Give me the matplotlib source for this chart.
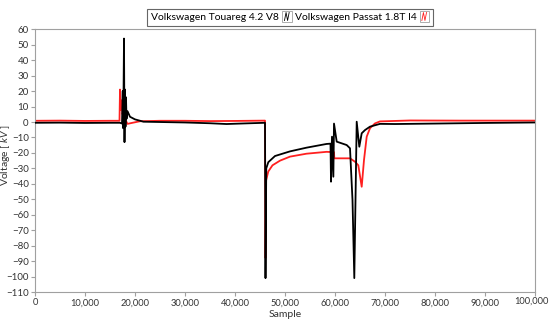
import numpy as np
import matplotlib
matplotlib.use('Agg')
import matplotlib.pyplot as plt
from matplotlib.lines import Line2D
from matplotlib.patches import Rectangle
from matplotlib.legend_handler import HandlerBase
from matplotlib.ticker import FuncFormatter, MultipleLocator

# Touareg 4.2 V8 (black)
touareg_x = [0, 5000, 10000, 15000, 17000, 17400, 17550, 17650, 17800, 17900,
             18000, 18100, 18200, 18300, 18500, 19000, 20000, 21700, 25000,
             30000, 35000, 38300, 42000, 46000, 46100, 46250, 46660, 48000,
             51000, 54300, 58300, 59100, 59200, 59400, 59670, 59800, 60340,
             62340, 63000, 63500, 63860, 64340, 64860, 65340, 66000, 67000,
             69000, 72000, 80000, 90000, 100000]
touareg_y = [-0.5, -0.4, -0.6, -0.5, -0.5, -1.0, 20, -4, 54, -13,
             21, -3, 16, 2, 7, 3.4, 1.7, 0.2, 0.0,
             -0.3, -0.8, -1.3, -0.9, -0.5, -101, -30, -26, -22,
             -19, -16.6, -14.2, -14, -38.6, -9.5, -35.4, -1, -12.7,
             -14.9, -17, -50.5, -101, 0.2, -16, -7.3, -5.2, -3,
             -1.2, -1.3, -1.0, -0.6, -0.3]

# Passat 1.8T I4 (red)
passat_x = [0, 5000, 10000, 15000, 16900, 17000, 17150, 17300, 17500, 17700,
            18000, 18500, 19500, 21000, 25000, 30000, 35000, 40000, 46000,
            46100, 46200, 46660, 47500, 49000, 51000, 54300, 58300, 59800,
            59860, 63000, 64000, 64660, 65340, 65800, 66340, 67000, 68000,
            69000, 75000, 85000, 100000]
passat_y = [0.8, 0.9, 0.7, 0.8, 0.8, 21, 8, 14, 5, 7,
            2, -1.2, -0.5, 0.5, 0.8, 0.8, 0.6, 0.7, 0.9,
            -88, -38, -32, -28, -25, -22.4, -20.5, -19.3, -19.5,
            -23.5, -23.5, -25.7, -28, -41.9, -24.6, -9.5, -4, -0.9,
            0.4, 1.0, 0.9, 0.9]

labels = ['Volkswagen Touareg 4.2 V8', 'Volkswagen Passat 1.8T I4']
colors = ['black', '#ff2020']
x_max = 100000

grey = '#a0a0a0'
plt.rcParams['font.family'] = ['Lato', 'DejaVu Sans']
plt.rcParams['font.size'] = 7
plt.rcParams['mathtext.fontset'] = 'custom'
plt.rcParams['mathtext.rm'] = 'Lato'
plt.rcParams['mathtext.it'] = 'Lato:italic'


class ZigHandler(HandlerBase):
    def create_artists(self, legend, orig_handle, xdescent, ydescent,
                       width, height, fontsize, trans):
        x0, y0 = -xdescent, -ydescent
        box = Rectangle((x0, y0 - 0.2 * height), width, height * 1.4,
                        fill=False, ec=grey, lw=0.6, transform=trans)
        zx = x0 + width * np.array([0.25, 0.42, 0.58, 0.75])
        zy = y0 + height * np.array([-0.05, 1.05, -0.05, 1.05])
        zig = Line2D(zx, zy, color=orig_handle.get_color(), lw=0.6,
                     transform=trans)
        return [box, zig]


def fmt(v, p):
    # the last label is drawn by hand, nudged in from the edge
    return '' if v >= x_max else '{:,.0f}'.format(v)


fig = plt.figure(figsize=(5.5, 3.22), dpi=100)
ax = fig.add_axes([35 / 550, 1 - 292 / 322, 500 / 550, (292 - 29.3) / 322])

ax.plot(touareg_x, touareg_y, color=colors[0], lw=1.3, zorder=3)
ax.plot(passat_x, passat_y, color=colors[1], lw=1.3, zorder=2)

ax.set_xlim(0, x_max)
ax.set_ylim(-110, 60)
ax.xaxis.set_major_locator(MultipleLocator(10000))
ax.yaxis.set_major_locator(MultipleLocator(10))
ax.xaxis.set_major_formatter(FuncFormatter(fmt))
for s in ax.spines.values():
    s.set_color(grey)
    s.set_linewidth(0.8)
ax.tick_params(colors=grey, labelcolor='#333333', length=3, width=0.8,
               labelsize=7, pad=1.5)
ax.tick_params(axis='x', labelsize=6.7)
ax.annotate('{:,.0f}'.format(x_max), xy=(1, 0), xycoords='axes fraction',
            xytext=(-2.5, -3.6), textcoords='offset points', ha='center',
            va='top', fontsize=6.7, color='#333333')
ax.set_xlabel('Sample', color='#333333', fontsize=7.5, labelpad=2)
ax.set_ylabel('Voltage [ $kV$ ]', color='#333333', fontsize=7.5)
ax.yaxis.set_label_coords(-23 / 500, 0.52)

handles = [Line2D([], [], color=c) for c in colors]
leg = fig.legend(handles, labels, loc='upper center',
                 bbox_to_anchor=(290 / 550, 1 - 4 / 322), ncol=2,
                 markerfirst=False, handler_map={Line2D: ZigHandler()},
                 frameon=True, fancybox=False, edgecolor='#666666',
                 framealpha=1, borderpad=0.35, handlelength=0.9,
                 handletextpad=0.3, columnspacing=0.3, fontsize=7.5)
leg.get_frame().set_linewidth(0.8)

fig.savefig('out.png', dpi=100)
